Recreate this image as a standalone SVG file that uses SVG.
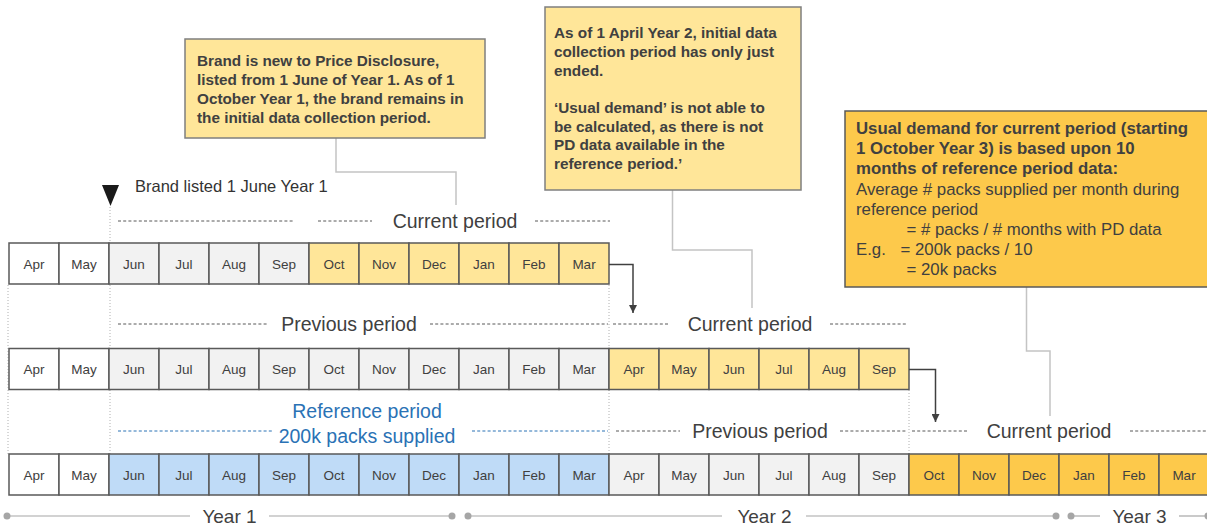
<svg xmlns="http://www.w3.org/2000/svg" width="1207" height="525" viewBox="0 0 1207 525">
  <style>
    .cell { stroke: #595959; stroke-width: 1.5; }
    .w { fill: #ffffff; }
    .g { fill: #f2f2f2; }
    .o { fill: #ffe699; }
    .b { fill: #bfdbf7; }
    .y { fill: #fdc94b; }
    .m { font-family: "Liberation Sans", Arial, sans-serif; font-size: 13.5px; fill: #404040; text-anchor: middle; }
    .per { font-family: "Liberation Sans", Arial, sans-serif; font-size: 19.5px; fill: #404040; }
    .ref { font-family: "Liberation Sans", Arial, sans-serif; font-size: 19.5px; fill: #2a72b5; text-anchor: middle; }
    .dash { stroke: #595959; stroke-width: 1; stroke-dasharray: 3 2.2; fill: none; }
    .bdash { stroke: #2a72b5; stroke-width: 1; stroke-dasharray: 3 2.2; fill: none; }
    .guide { stroke: #b0b0b0; stroke-width: 1; stroke-dasharray: 1 2; fill: none; }
    .lead { stroke: #c4c4c4; stroke-width: 1.5; fill: none; }
    .flow { stroke: #404040; stroke-width: 1.5; fill: none; }
    .box1 { fill: #ffe699; stroke: #7f7f7f; stroke-width: 1.5; }
    .box3 { fill: #fdc94b; stroke: #595959; stroke-width: 1.5; }
    .ct { font-family: "Liberation Sans", Arial, sans-serif; font-size: 15.3px; font-weight: bold; fill: #404040; }
    .ct3 { font-family: "Liberation Sans", Arial, sans-serif; font-size: 16.8px; fill: #404040; }
    .axis { stroke: #a6a6a6; stroke-width: 1.2; fill: none; }
    .dot { fill: #a6a6a6; }
    .yr { font-family: "Liberation Sans", Arial, sans-serif; font-size: 19px; fill: #404040; text-anchor: middle; }
  </style>
  <defs>
    <marker id="arrow" markerWidth="8" markerHeight="8" refX="8" refY="4" orient="auto" markerUnits="userSpaceOnUse">
      <path d="M0,0 L8,4 L0,8 Z" fill="#404040"/>
    </marker>
  </defs>

  <!-- vertical guide lines -->
  <g id="guides">
    <line class="guide" x1="8" y1="285" x2="8" y2="454"/>
    <line class="guide" x1="110" y1="207" x2="110" y2="454"/>
    <line class="guide" x1="609" y1="285" x2="609" y2="454"/>
    <line class="guide" x1="909" y1="390" x2="909" y2="454"/>
  </g>

  <!-- listing marker -->
  <g id="listing-marker">
    <polygon points="102,185 119,185 110.5,206" fill="#1a1a1a"/>
    <text x="135" y="192" font-family="Liberation Sans, Arial, sans-serif" font-size="16.5" fill="#333333">Brand listed 1 June Year 1</text>
  </g>

  <!-- period labels -->
  <g id="period-labels">
    <line class="dash" x1="118" y1="221" x2="293" y2="221"/>
    <line class="dash" x1="318" y1="221" x2="372" y2="221"/>
    <text class="per" x="455" y="227.5" text-anchor="middle">Current period</text>
    <line class="dash" x1="535" y1="221" x2="610" y2="221"/>

    <line class="dash" x1="118" y1="324" x2="268" y2="324"/>
    <text class="per" x="349" y="330.5" text-anchor="middle">Previous period</text>
    <line class="dash" x1="430" y1="324" x2="608" y2="324"/>
    <line class="dash" x1="613" y1="324" x2="669" y2="324"/>
    <text class="per" x="750" y="330.5" text-anchor="middle">Current period</text>
    <line class="dash" x1="830" y1="324" x2="907" y2="324"/>

    <text class="ref" x="367" y="418">Reference period</text>
    <line class="bdash" x1="118" y1="431" x2="274" y2="431"/>
    <text class="ref" x="367" y="443">200k packs supplied</text>
    <line class="bdash" x1="472" y1="431" x2="608" y2="431"/>

    <line class="dash" x1="616" y1="431" x2="680" y2="431"/>
    <text class="per" x="760" y="437.5" text-anchor="middle">Previous period</text>
    <line class="dash" x1="840" y1="431" x2="907" y2="431"/>
    <line class="dash" x1="912" y1="431" x2="967" y2="431"/>
    <text class="per" x="1049" y="437.5" text-anchor="middle">Current period</text>
    <line class="dash" x1="1130" y1="431" x2="1207" y2="431"/>
  </g>

  <!-- row 1: initial data collection -->
  <g id="row-1">
    <rect class="cell w" x="9" y="243" width="50" height="41"/>
    <rect class="cell w" x="59" y="243" width="50" height="41"/>
    <rect class="cell g" x="109" y="243" width="50" height="41"/>
    <rect class="cell g" x="159" y="243" width="50" height="41"/>
    <rect class="cell g" x="209" y="243" width="50" height="41"/>
    <rect class="cell g" x="259" y="243" width="50" height="41"/>
    <rect class="cell o" x="309" y="243" width="50" height="41"/>
    <rect class="cell o" x="359" y="243" width="50" height="41"/>
    <rect class="cell o" x="409" y="243" width="50" height="41"/>
    <rect class="cell o" x="459" y="243" width="50" height="41"/>
    <rect class="cell o" x="509" y="243" width="50" height="41"/>
    <rect class="cell o" x="559" y="243" width="50" height="41"/>
    <text class="m" x="34" y="269">Apr</text>
    <text class="m" x="84" y="269">May</text>
    <text class="m" x="134" y="269">Jun</text>
    <text class="m" x="184" y="269">Jul</text>
    <text class="m" x="234" y="269">Aug</text>
    <text class="m" x="284" y="269">Sep</text>
    <text class="m" x="334" y="269">Oct</text>
    <text class="m" x="384" y="269">Nov</text>
    <text class="m" x="434" y="269">Dec</text>
    <text class="m" x="484" y="269">Jan</text>
    <text class="m" x="534" y="269">Feb</text>
    <text class="m" x="584" y="269">Mar</text>
  </g>

  <!-- row 2: year 2 -->
  <g id="row-2">
    <rect class="cell w" x="9" y="348.5" width="50" height="41"/>
    <rect class="cell w" x="59" y="348.5" width="50" height="41"/>
    <rect class="cell g" x="109" y="348.5" width="50" height="41"/>
    <rect class="cell g" x="159" y="348.5" width="50" height="41"/>
    <rect class="cell g" x="209" y="348.5" width="50" height="41"/>
    <rect class="cell g" x="259" y="348.5" width="50" height="41"/>
    <rect class="cell g" x="309" y="348.5" width="50" height="41"/>
    <rect class="cell g" x="359" y="348.5" width="50" height="41"/>
    <rect class="cell g" x="409" y="348.5" width="50" height="41"/>
    <rect class="cell g" x="459" y="348.5" width="50" height="41"/>
    <rect class="cell g" x="509" y="348.5" width="50" height="41"/>
    <rect class="cell g" x="559" y="348.5" width="50" height="41"/>
    <rect class="cell o" x="609" y="348.5" width="50" height="41"/>
    <rect class="cell o" x="659" y="348.5" width="50" height="41"/>
    <rect class="cell o" x="709" y="348.5" width="50" height="41"/>
    <rect class="cell o" x="759" y="348.5" width="50" height="41"/>
    <rect class="cell o" x="809" y="348.5" width="50" height="41"/>
    <rect class="cell o" x="859" y="348.5" width="50" height="41"/>
    <text class="m" x="34" y="374">Apr</text>
    <text class="m" x="84" y="374">May</text>
    <text class="m" x="134" y="374">Jun</text>
    <text class="m" x="184" y="374">Jul</text>
    <text class="m" x="234" y="374">Aug</text>
    <text class="m" x="284" y="374">Sep</text>
    <text class="m" x="334" y="374">Oct</text>
    <text class="m" x="384" y="374">Nov</text>
    <text class="m" x="434" y="374">Dec</text>
    <text class="m" x="484" y="374">Jan</text>
    <text class="m" x="534" y="374">Feb</text>
    <text class="m" x="584" y="374">Mar</text>
    <text class="m" x="634" y="374">Apr</text>
    <text class="m" x="684" y="374">May</text>
    <text class="m" x="734" y="374">Jun</text>
    <text class="m" x="784" y="374">Jul</text>
    <text class="m" x="834" y="374">Aug</text>
    <text class="m" x="884" y="374">Sep</text>
  </g>

  <!-- row 3: year 3 -->
  <g id="row-3">
    <rect class="cell w" x="9" y="454" width="50" height="41"/>
    <rect class="cell w" x="59" y="454" width="50" height="41"/>
    <rect class="cell b" x="109" y="454" width="50" height="41"/>
    <rect class="cell b" x="159" y="454" width="50" height="41"/>
    <rect class="cell b" x="209" y="454" width="50" height="41"/>
    <rect class="cell b" x="259" y="454" width="50" height="41"/>
    <rect class="cell b" x="309" y="454" width="50" height="41"/>
    <rect class="cell b" x="359" y="454" width="50" height="41"/>
    <rect class="cell b" x="409" y="454" width="50" height="41"/>
    <rect class="cell b" x="459" y="454" width="50" height="41"/>
    <rect class="cell b" x="509" y="454" width="50" height="41"/>
    <rect class="cell b" x="559" y="454" width="50" height="41"/>
    <rect class="cell g" x="609" y="454" width="50" height="41"/>
    <rect class="cell g" x="659" y="454" width="50" height="41"/>
    <rect class="cell g" x="709" y="454" width="50" height="41"/>
    <rect class="cell g" x="759" y="454" width="50" height="41"/>
    <rect class="cell g" x="809" y="454" width="50" height="41"/>
    <rect class="cell g" x="859" y="454" width="50" height="41"/>
    <rect class="cell y" x="909" y="454" width="50" height="41"/>
    <rect class="cell y" x="959" y="454" width="50" height="41"/>
    <rect class="cell y" x="1009" y="454" width="50" height="41"/>
    <rect class="cell y" x="1059" y="454" width="50" height="41"/>
    <rect class="cell y" x="1109" y="454" width="50" height="41"/>
    <rect class="cell y" x="1159" y="454" width="50" height="41"/>
    <text class="m" x="34" y="479.5">Apr</text>
    <text class="m" x="84" y="479.5">May</text>
    <text class="m" x="134" y="479.5">Jun</text>
    <text class="m" x="184" y="479.5">Jul</text>
    <text class="m" x="234" y="479.5">Aug</text>
    <text class="m" x="284" y="479.5">Sep</text>
    <text class="m" x="334" y="479.5">Oct</text>
    <text class="m" x="384" y="479.5">Nov</text>
    <text class="m" x="434" y="479.5">Dec</text>
    <text class="m" x="484" y="479.5">Jan</text>
    <text class="m" x="534" y="479.5">Feb</text>
    <text class="m" x="584" y="479.5">Mar</text>
    <text class="m" x="634" y="479.5">Apr</text>
    <text class="m" x="684" y="479.5">May</text>
    <text class="m" x="734" y="479.5">Jun</text>
    <text class="m" x="784" y="479.5">Jul</text>
    <text class="m" x="834" y="479.5">Aug</text>
    <text class="m" x="884" y="479.5">Sep</text>
    <text class="m" x="934" y="479.5">Oct</text>
    <text class="m" x="984" y="479.5">Nov</text>
    <text class="m" x="1034" y="479.5">Dec</text>
    <text class="m" x="1084" y="479.5">Jan</text>
    <text class="m" x="1134" y="479.5">Feb</text>
    <text class="m" x="1184" y="479.5">Mar</text>
  </g>

  <!-- connectors -->
  <g id="connectors">
    <polyline class="lead" points="336,138 336,172 456,172 456,205"/>
    <polyline class="lead" points="672.5,190 672.5,250 752,250 752,308"/>
    <polyline class="lead" points="1026.5,287 1026.5,351 1050,351 1050,416"/>
    <polyline class="flow" points="609,264.5 633,264.5 633,313" marker-end="url(#arrow)"/>
    <polyline class="flow" points="909,369.5 935.5,369.5 935.5,422" marker-end="url(#arrow)"/>
  </g>

  <!-- callout: new brand -->
  <g id="note-new-brand">
    <rect class="box1" x="185" y="39" width="300" height="99"/>
    <text class="ct" x="197" y="66">Brand is new to Price Disclosure,</text>
    <text class="ct" x="197" y="85">listed from 1 June of Year 1. As of 1</text>
    <text class="ct" x="197" y="104">October Year 1, the brand remains in</text>
    <text class="ct" x="197" y="123">the initial data collection period.</text>
  </g>

  <!-- callout: year 2 -->
  <g id="note-year-2">
    <rect class="box1" x="545" y="7" width="256" height="183"/>
    <text class="ct" x="554" y="38">As of 1 April Year 2, initial data</text>
    <text class="ct" x="554" y="57">collection period has only just</text>
    <text class="ct" x="554" y="75.5">ended.</text>
    <text class="ct" x="554" y="113">‘Usual demand’ is not able to</text>
    <text class="ct" x="554" y="131.5">be calculated, as there is not</text>
    <text class="ct" x="554" y="150">PD data available in the</text>
    <text class="ct" x="554" y="168.5">reference period.’</text>
  </g>

  <!-- callout: year 3 usual demand -->
  <g id="note-year-3">
    <rect class="box3" x="845" y="111" width="370" height="176"/>
    <text class="ct3" x="856" y="134" font-weight="bold">Usual demand for current period (starting</text>
    <text class="ct3" x="856" y="154" font-weight="bold">1 October Year 3) is based upon 10</text>
    <text class="ct3" x="856" y="174" font-weight="bold">months of reference period data:</text>
    <text class="ct3" x="856" y="194.5">Average # packs supplied per month during</text>
    <text class="ct3" x="856" y="214.5">reference period</text>
    <text class="ct3" x="906.5" y="234.5">= # packs / # months with PD data</text>
    <text class="ct3" x="856" y="254.5">E.g.</text>
    <text class="ct3" x="900.5" y="254.5">= 200k packs / 10</text>
    <text class="ct3" x="906.5" y="274.5">= 20k packs</text>
  </g>

  <!-- year axis -->
  <g id="year-axis">
    <circle class="dot" cx="7" cy="516" r="3.5"/>
    <line class="axis" x1="7" y1="516" x2="190" y2="516"/>
    <text class="yr" x="229.5" y="523">Year 1</text>
    <line class="axis" x1="269" y1="516" x2="452" y2="516"/>
    <circle class="dot" cx="452" cy="516" r="3.5"/>
    <circle class="dot" cx="468" cy="516" r="3.5"/>
    <line class="axis" x1="468" y1="516" x2="722" y2="516"/>
    <text class="yr" x="764.5" y="523">Year 2</text>
    <line class="axis" x1="806" y1="516" x2="1056" y2="516"/>
    <circle class="dot" cx="1056" cy="516" r="3.5"/>
    <circle class="dot" cx="1071" cy="516" r="3.5"/>
    <line class="axis" x1="1071" y1="516" x2="1100" y2="516"/>
    <text class="yr" x="1139.5" y="523">Year 3</text>
    <line class="axis" x1="1179" y1="516" x2="1207" y2="516"/>
    <circle class="dot" cx="1208" cy="516" r="3.5"/>
  </g>
</svg>
